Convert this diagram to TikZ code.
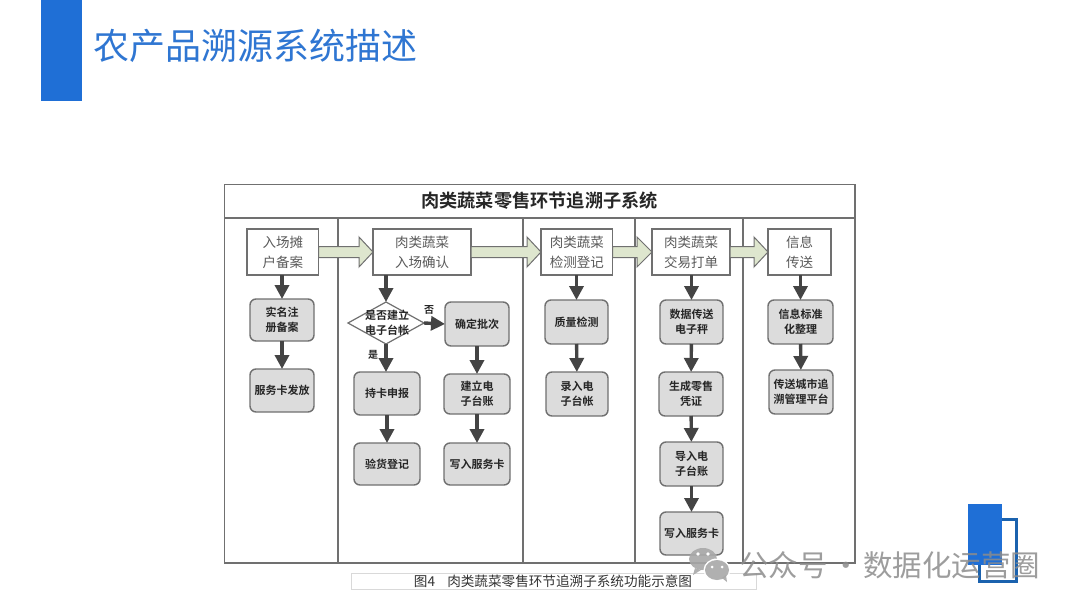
\documentclass[tikz,border=0pt]{standalone}
\usepackage{fontspec}
\setmainfont{Noto Sans CJK SC}[BoldFont={Noto Sans CJK SC Bold}]
\usetikzlibrary{arrows.meta,shapes.geometric,calc}
\definecolor{barblue}{HTML}{1F6FD6}
\definecolor{titleblue}{HTML}{2F76D2}
\definecolor{darkblue}{HTML}{1B62AE}
\definecolor{framegray}{HTML}{707070}
\definecolor{headtext}{HTML}{5A5A5A}
\definecolor{boxfill}{HTML}{DCDCDC}
\definecolor{greenfill}{HTML}{DEE6CE}
\definecolor{arrowdark}{HTML}{444444}
\definecolor{markgray}{HTML}{A8A8A8}
\tikzset{
  frameline/.style={draw=framegray,line width=1.4pt},
  headbox/.style={draw=framegray,fill=white,line width=1.4pt,outer sep=0pt,inner sep=0pt,align=center,
    text=headtext,font=\fontsize{13.5}{20}\selectfont},
  softbox/.style={draw=framegray,fill=boxfill,line width=1.4pt,rounded corners=6pt,outer sep=0pt,inner sep=0pt,
    align=center,text=black!85,font=\fontsize{11}{14.5}\selectfont\bfseries},
  downarrow/.style={draw=arrowdark,line width=3.4pt,-{Triangle[length=14pt,width=14pt]}},
  smalltag/.style={font=\fontsize{10}{12}\selectfont\bfseries,text=black!85,inner sep=0pt},
}
\newcommand{\bigarrow}[3]{% from node, to node, x where head begins
  \draw[draw=framegray,fill=greenfill,line width=1pt]
    let \p1=(#1.east), \p2=(#2.west) in
    (\x1,\y1-5.5pt) -- (#3pt,\y1-5.5pt) -- (#3pt,\y1-15pt) -- (\x2,\y1) -- (#3pt,\y1+15pt) -- (#3pt,\y1+5.5pt) -- (\x1,\y1+5.5pt) -- cycle;}
\begin{document}
\begin{tikzpicture}[x=1pt,y=-1pt]
\useasboundingbox (0,0) rectangle (1080,608);
\fill[white] (0,0) rectangle (1080,608);
% slide header
\fill[barblue] (40.5,0) rectangle (82,101);
\node[anchor=west,inner sep=0pt,text=titleblue,font=\fontsize{36}{38}\selectfont] (slidetitle) at (93,46) {农产品溯源系统描述};
% frame
\draw[frameline] (224.5,184.5) rectangle (855,563);
\draw[frameline] (224.5,218) -- (855,218);
\draw[frameline] (338,218) -- (338,563);
\draw[frameline] (523,218) -- (523,563);
\draw[frameline] (635,218) -- (635,563);
\draw[frameline] (743,218) -- (743,563);
\node[inner sep=0pt,text=black!85,font=\fontsize{18.2}{20}\selectfont\bfseries] (maintitle) at (539.5,201) {肉类蔬菜零售环节追溯子系统};
% header boxes
\node[headbox,minimum width=71.5,minimum height=46] (h1) at (282.75,252) {入场摊\\户备案};
\node[headbox,minimum width=98,minimum height=46] (h2) at (422,252) {肉类蔬菜\\入场确认};
\node[headbox,minimum width=71.5,minimum height=46] (h3) at (576.75,252) {肉类蔬菜\\检测登记};
\node[headbox,minimum width=78,minimum height=46] (h4) at (691,252) {肉类蔬菜\\交易打单};
\node[headbox,minimum width=63,minimum height=46] (h5) at (799.5,252) {信息\\传送};
% wide arrows
\bigarrow{h1}{h2}{359}
\bigarrow{h2}{h3}{527}
\bigarrow{h3}{h4}{637}
\bigarrow{h4}{h5}{754}
% column 1
\node[softbox,minimum width=64,minimum height=42] (a1) at (282,320) {实名注\\册备案};
\node[softbox,minimum width=64,minimum height=43] (a2) at (282,390.5) {服务卡发放};
% column 2
\node[diamond,draw=framegray,fill=white,line width=1.2pt,minimum width=76,minimum height=42,inner sep=0pt,outer sep=0pt] (d) at (386,323) {};
\node[align=center,inner sep=0pt,text=black!85,font=\fontsize{11}{14.5}\selectfont\bfseries] (dtext) at (387,323) {是否建立\\电子台帐};
\node[softbox,minimum width=64,minimum height=44] (b1) at (477,324) {确定批次};
\node[softbox,minimum width=66,minimum height=43] (c1) at (387,393.5) {持卡申报};
\node[softbox,minimum width=66,minimum height=40] (b2) at (477,394) {建立电\\子台账};
\node[softbox,minimum width=66,minimum height=42] (c2) at (387,464) {验货登记};
\node[softbox,minimum width=66,minimum height=42] (b3) at (477,464) {写入服务卡};
\node[smalltag] (yes) at (373,355) {是};
\node[smalltag] (no) at (429,310) {否};
% column 3
\node[softbox,minimum width=63,minimum height=44] (e1) at (576.5,322) {质量检测};
\node[softbox,minimum width=62,minimum height=44] (e2) at (577,394) {录入电\\子台帐};
% column 4
\node[softbox,minimum width=63,minimum height=44] (f1) at (691.5,322) {数据传送\\电子秤};
\node[softbox,minimum width=64,minimum height=44] (f2) at (691,394) {生成零售\\凭证};
\node[softbox,minimum width=63,minimum height=44] (f3) at (691.5,464) {导入电\\子台账};
\node[softbox,minimum width=63,minimum height=43] (f4) at (691.5,533.5) {写入服务卡};
% column 5
\node[softbox,minimum width=65,minimum height=44] (g1) at (800.5,322) {信息标准\\化整理};
\node[softbox,minimum width=64,minimum height=44] (g2) at (801,392) {传送城市追\\溯管理平台};
% flow arrows
\draw[downarrow] (a1.north |- h1.south) -- (a1.north);
\draw[downarrow] (a1) -- (a2);
\draw[downarrow] (d.north |- h2.south) -- (d.north);
\draw[downarrow] (d.east) -- (b1.west);
\draw[downarrow] (d.south) -- (d.south |- c1.north);
\draw[downarrow] (c1) -- (c2);
\draw[downarrow] (b1) -- (b2);
\draw[downarrow] (b2) -- (b3);
\draw[downarrow] (e1.north |- h3.south) -- (e1.north);
\draw[downarrow] (e1) -- (e2);
\draw[downarrow] (f1.north |- h4.south) -- (f1.north);
\draw[downarrow] (f1) -- (f2);
\draw[downarrow] (f2) -- (f3);
\draw[downarrow] (f3) -- (f4);
\draw[downarrow] (g1.north |- h5.south) -- (g1.north);
\draw[downarrow] (g1) -- (g2);
% caption
\node[draw=black!15,line width=1pt,fill=white,minimum width=405,minimum height=16,inner sep=0pt,outer sep=0pt] (capbox) at (553.5,581) {};
\node[inner sep=0pt,text=black!80,font=\fontsize{13.6}{15}\selectfont] (caption) at (553,581) {图4\hspace{0.9em}肉类蔬菜零售环节追溯子系统功能示意图};
% corner logo
\draw[darkblue,line width=3.5pt] (979.5,519.5) rectangle (1016.5,581.5);
\fill[barblue] (968,504) rectangle (1002,565);
% watermark
\fill[markgray,opacity=.9] (703,559) ellipse [x radius=14,y radius=11];
\fill[markgray,opacity=.9] (695,568) -- (693,575) -- (701,570) -- cycle;
\fill[white] (717,570) ellipse [x radius=13.5,y radius=11.5];
\fill[markgray,opacity=.9] (717,570) ellipse [x radius=12,y radius=10];
\fill[markgray,opacity=.9] (722,578) -- (727,582) -- (726,575) -- cycle;
\fill[white] (698,554) circle (1.8);
\fill[white] (708,554) circle (1.8);
\fill[white] (712,567) circle (1.5);
\fill[white] (722,567) circle (1.5);
\node[anchor=west,inner sep=0pt,text=black!45,text opacity=.85,font=\fontsize{29.5}{32}\selectfont] (mark) at (739,565) {公众号\hspace{-3pt} · \hspace{-4pt}数据化运营圈};
\end{tikzpicture}
\end{document}
